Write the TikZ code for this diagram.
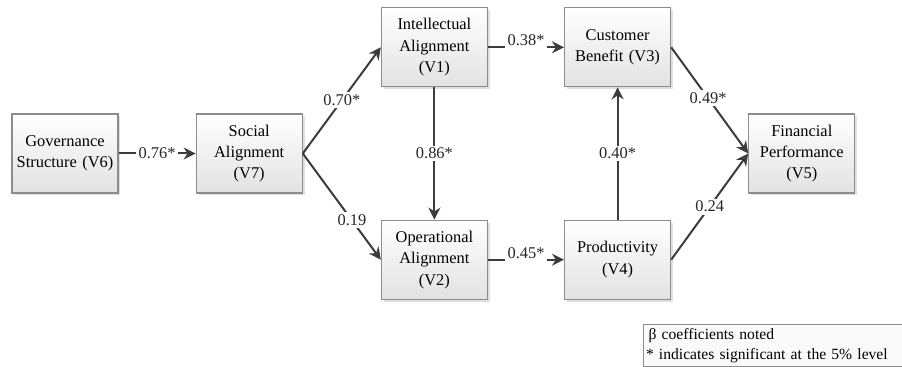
\documentclass[tikz,border=0pt]{standalone}
\usepackage{fontspec}
\setmainfont{Liberation Serif}
\usepackage{xcolor}
\usetikzlibrary{arrows.meta,positioning,shadows}

\definecolor{boxline}{RGB}{140,140,140}
\definecolor{boxbottom}{RGB}{226,226,226}
\definecolor{pathline}{RGB}{60,60,60}

\begin{document}
\begin{tikzpicture}[
        node distance=38.5pt,
        var/.style={rectangle, draw=boxline, top color=white, bottom color=boxbottom, drop shadow={shadow xshift=1.2pt, shadow yshift=-1.2pt, fill=black!25}, minimum width=53pt, minimum height=39.5pt, text width=53pt, align=center, inner xsep=0pt, inner ysep=1pt, font=\rmfamily\fontsize{8.2pt}{10.7pt}\selectfont, line width=0.6pt},
        arrow/.style={draw=pathline, -{Stealth[length=6pt, width=6pt]}, line width=1pt},
        coef/.style={fill=white, inner sep=1.2pt, font=\rmfamily\fontsize{8.2pt}{10pt}\selectfont, text=black!85}
    ]
    \useasboundingbox (0,0) rectangle (451pt,-183.5pt);

    % Left chain
    \node [var] (v6) at (32.5pt,-76.75pt) {Governance\\Structure (V6)};
    \node [var, right=of v6] (v7) {Social\\Alignment\\(V7)};

    % Alignment
    \node [var, above right=13pt and 39pt of v7] (v1) {Intellectual\\Alignment\\(V1)};
    \node [var, below right=13pt and 39pt of v7] (v2) {Operational\\Alignment\\(V2)};

    % Outcomes
    \node [var, right=38pt of v1] (v3) {Customer\\Benefit (V3)};
    \node [var, right=38pt of v2] (v4) {Productivity\\(V4)};
    \node [var, below right=13pt and 38.5pt of v3] (v5) {Financial\\Performance\\(V5)};

    % Paths with beta coefficients
    \path [arrow] (v6) -- node [coef] {0.76*} (v7);
    \path [arrow] (v7.east) -- node [coef] {0.70*} (v1.west);
    \path [arrow] (v7.east) -- node [coef, pos=0.63] {0.19} (v2.west);
    \path [arrow] (v1) -- node [coef, yshift=3.5pt] {0.38*} (v3);
    \path [arrow] (v1) -- node [coef] {0.86*} (v2);
    \path [arrow] (v2) -- node [coef, yshift=3.5pt] {0.45*} (v4);
    \path [arrow] (v4) -- node [coef] {0.40*} (v3);
    \path [arrow] (v3.east) -- node [coef, pos=0.48] {0.49*} (v5.west);
    \path [arrow] (v4.east) -- node [coef] {0.24} (v5.west);

    % Legend
    \node [draw=boxline, fill=black!2, line width=0.6pt, anchor=north west, text width=140pt, align=left, inner xsep=1.2pt, inner ysep=2pt, font=\rmfamily\fontsize{7.8pt}{10pt}\selectfont] (legend) at (321.5pt,-162pt) {\,β coefficients noted\\{*} indicates significant at the 5\% level};
\end{tikzpicture}
\end{document}
